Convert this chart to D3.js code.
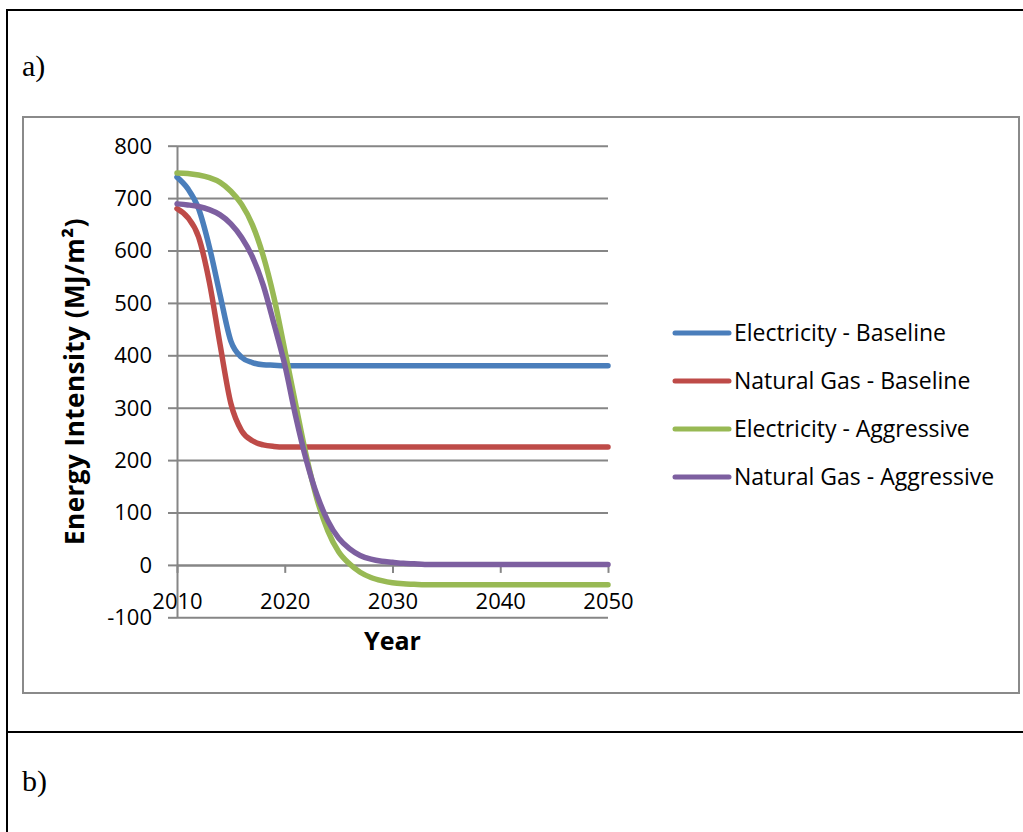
<!DOCTYPE html>
<html>
<head>
<meta charset="utf-8">
<script src="https://cdn.jsdelivr.net/npm/d3@7"></script>
<style>
  html, body { margin: 0; padding: 0; background: #ffffff; }
  svg { display: block; }
  .tick text { font-family: "Open Sans", "Noto Sans", sans-serif; }
</style>
</head>
<body>
<svg id="fig" width="1023" height="832"></svg>
<script>
// ---- data -------------------------------------------------------------
const years = d3.range(2010, 2051);           // annual steps, 2010..2050
const xTickValues = [2010, 2020, 2030, 2040, 2050];
const yTickValues = [-100, 0, 100, 200, 300, 400, 500, 600, 700, 800];

const seriesNames = [
  "Electricity - Baseline",
  "Natural Gas - Baseline",
  "Electricity - Aggressive",
  "Natural Gas - Aggressive"
];
const seriesColors = ["#4A7EBB", "#BE4B48", "#98B954", "#7D5FA0"];

// Energy intensity, MJ/m², one value per year 2010..2050
const electricityBaseline = [
  740, 718, 680, 607, 515, 427, 396, 386, 382, 381,
  380, 380, 380, 380, 380, 380, 380, 380, 380, 380,
  380, 380, 380, 380, 380, 380, 380, 380, 380, 380,
  380, 380, 380, 380, 380, 380, 380, 380, 380, 380,
  380
];
const naturalGasBaseline = [
  680, 663, 626, 540, 420, 308, 256, 237, 229, 226,
  225, 225, 225, 225, 225, 225, 225, 225, 225, 225,
  225, 225, 225, 225, 225, 225, 225, 225, 225, 225,
  225, 225, 225, 225, 225, 225, 225, 225, 225, 225,
  225
];
const electricityAggressive = [
  748, 747, 744, 739, 730, 713, 688, 649, 590, 510,
  410, 308, 208, 125, 65, 25, 2, -14, -24, -30,
  -34, -36, -37, -38, -38, -38, -38, -38, -38, -38,
  -38, -38, -38, -38, -38, -38, -38, -38, -38, -38,
  -38
];
const naturalGasAggressive = [
  689, 687, 684, 678, 668, 651, 625, 588, 534, 460,
  382, 285, 200, 133, 84, 51, 31, 18, 11, 7,
  5, 3, 2, 1, 1, 1, 1, 1, 1, 1,
  1, 1, 1, 1, 1, 1, 1, 1, 1, 1,
  1
];
const seriesValues = [electricityBaseline, naturalGasBaseline, electricityAggressive, naturalGasAggressive];

// ---- drawing ----------------------------------------------------------
const svg = d3.select("#fig");
const sans = '"Open Sans", "Noto Sans", sans-serif';
const serif = '"Liberation Serif", "Times New Roman", serif';
const gridColor = "#868686";

// document frame (table cells)
svg.append("line").attr("x1", 7).attr("x2", 1023).attr("y1", 10).attr("y2", 10)
  .attr("stroke", "#000").attr("stroke-width", 2);
svg.append("line").attr("x1", 7).attr("x2", 7).attr("y1", 9).attr("y2", 832)
  .attr("stroke", "#000").attr("stroke-width", 2);
svg.append("line").attr("x1", 7).attr("x2", 1023).attr("y1", 732).attr("y2", 732)
  .attr("stroke", "#000").attr("stroke-width", 2);

svg.append("text").attr("x", 22).attr("y", 76).text("a)")
  .attr("font-family", serif).attr("font-size", 30).attr("fill", "#000");
svg.append("text").attr("x", 22).attr("y", 791).text("b)")
  .attr("font-family", serif).attr("font-size", 30).attr("fill", "#000");

// chart border
svg.append("rect").attr("x", 23).attr("y", 117).attr("width", 996).attr("height", 576)
  .attr("fill", "#fff").attr("stroke", "#8a8a8a").attr("stroke-width", 2);

// scales
const x = d3.scaleLinear().domain([2010, 2050]).range([177, 608]);
const y = d3.scaleLinear().domain([-100, 800]).range([617.3, 145.7]);

// horizontal gridlines
const grid = svg.append("g").attr("transform", `translate(${x(2010)},0)`)
  .call(d3.axisLeft(y).tickValues(yTickValues).tickSize(-(x(2050) - x(2010))).tickFormat(""));
grid.select(".domain").remove();
grid.selectAll(".tick line").attr("stroke", gridColor).attr("stroke-width", 2);

// y axis
const yAxis = svg.append("g").attr("transform", `translate(${x(2010)},0)`)
  .call(d3.axisLeft(y).tickValues(yTickValues).tickSize(9).tickSizeOuter(0).tickPadding(16)
    .tickFormat(d => String(d)));
yAxis.select(".domain").attr("stroke", gridColor).attr("stroke-width", 2);
yAxis.selectAll(".tick line").attr("stroke", gridColor).attr("stroke-width", 2);
yAxis.selectAll(".tick text").attr("font-size", 22).attr("fill", "#000").attr("dy", "0.34em");

// x axis, crossing at zero
const xAxis = svg.append("g").attr("transform", `translate(0,${y(0)})`)
  .call(d3.axisBottom(x).tickValues(xTickValues).tickSize(8).tickSizeOuter(0).tickPadding(20)
    .tickFormat(d => String(d)));
xAxis.select(".domain").attr("stroke", gridColor).attr("stroke-width", 2);
xAxis.selectAll(".tick line").attr("stroke", gridColor).attr("stroke-width", 2);
xAxis.selectAll(".tick text").attr("font-size", 22).attr("fill", "#000");

// axis titles
svg.append("text")
  .attr("transform", `translate(84,${(y(800) + y(-100)) / 2}) rotate(-90)`)
  .attr("text-anchor", "middle")
  .attr("font-family", sans).attr("font-size", 26).attr("font-weight", "bold")
  .attr("letter-spacing", 0.5)
  .text("Energy Intensity (MJ/m²)");
svg.append("text")
  .attr("x", (x(2010) + x(2050)) / 2).attr("y", 650)
  .attr("text-anchor", "middle")
  .attr("font-family", sans).attr("font-size", 25).attr("font-weight", "bold")
  .text("Year");

// series lines
const line = d3.line()
  .x((d, i) => x(years[i]))
  .y(d => y(d))
  .curve(d3.curveMonotoneX);

svg.append("g").selectAll("path")
  .data(seriesValues)
  .join("path")
  .attr("d", line)
  .attr("fill", "none")
  .attr("stroke", (d, i) => seriesColors[i])
  .attr("stroke-width", 5.5)
  .attr("stroke-linecap", "round")
  .attr("stroke-linejoin", "round");

// legend
const legend = svg.append("g").attr("transform", "translate(675,333)");
const rows = legend.selectAll("g").data(seriesNames).join("g")
  .attr("transform", (d, i) => `translate(0,${i * 48})`);
rows.append("line").attr("x1", 0).attr("x2", 54).attr("y1", 0).attr("y2", 0)
  .attr("stroke", (d, i) => seriesColors[i]).attr("stroke-width", 5).attr("stroke-linecap", "round");
rows.append("text").attr("x", 59).attr("y", 0).attr("dy", "0.35em")
  .attr("font-family", sans).attr("font-size", 23).attr("fill", "#000")
  .text(d => d);
</script>
</body>
</html>
